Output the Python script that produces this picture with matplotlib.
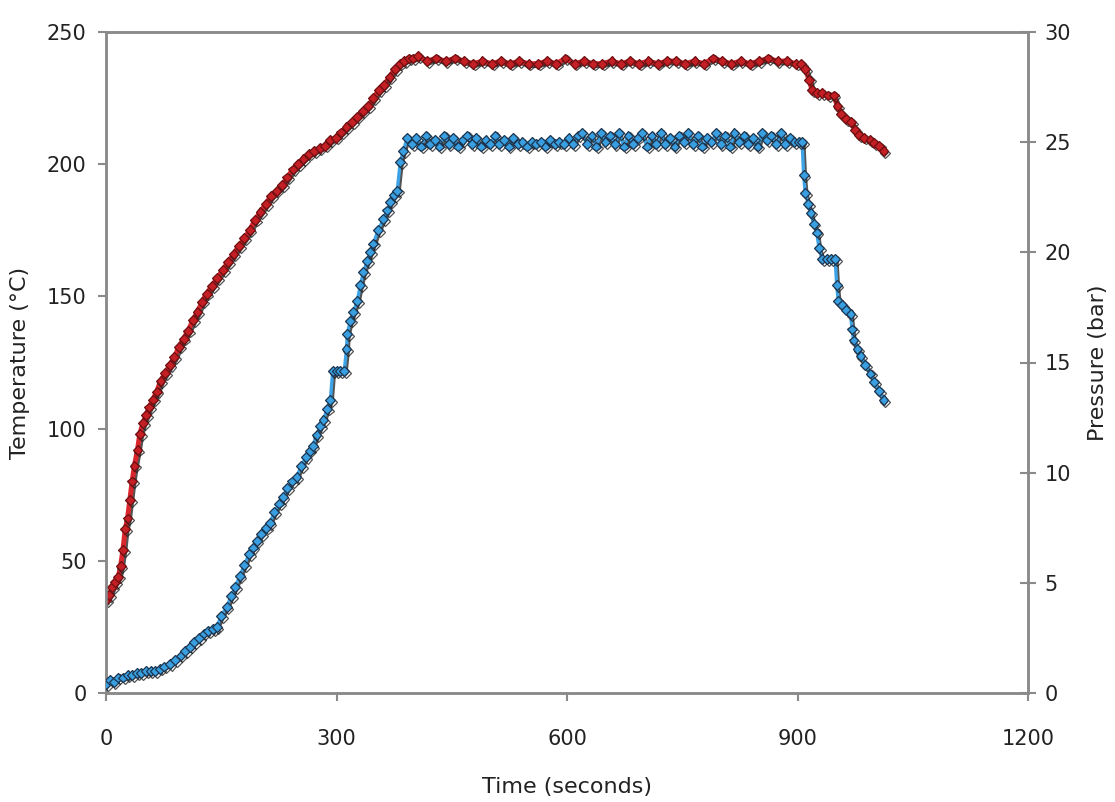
import matplotlib
matplotlib.use("Agg")
import matplotlib.pyplot as plt
import matplotlib.patheffects as pe

# Temperature log (time in s, temperature in degC)
temp_time = [0, 4, 8, 12, 16, 19, 22, 25, 28, 31, 34, 37, 41, 44, 48, 52, 56, 61, 66,
             71, 77, 83, 89, 95, 101, 107, 113, 119, 125, 131, 138, 145, 152, 159, 166,
             173, 180, 187, 194, 201, 208, 215, 222, 229, 236, 243, 250, 257, 264, 271,
             278, 285, 292, 299, 306, 313, 320, 327, 334, 341, 348, 355, 362, 369, 376,
             382, 388, 394, 400, 406, 418, 430, 442, 454, 466, 478, 490, 502, 514, 526,
             538, 550, 562, 574, 586, 598, 610, 622, 634, 646, 658, 670, 682, 694, 706,
             718, 730, 742, 754, 766, 778, 790, 802, 814, 826, 838, 850, 862, 874, 886,
             898, 905, 910, 915, 919, 925, 932, 940, 947, 952, 957, 963, 970, 975, 980,
             987, 995, 1000, 1006, 1012]
temperature = [35, 37, 40, 42, 44, 48, 54, 62, 66, 73, 80, 86, 92, 98, 102, 105, 108, 111, 114,
               118, 121, 124, 127, 131, 134, 137, 141, 144, 148, 151, 154, 157, 160, 163, 166,
               169, 172, 175, 179, 182, 185, 188, 190, 192, 195, 198, 200, 202, 204, 205,
               206, 207, 209, 210, 212, 214, 216, 218, 220, 222, 225, 228, 230, 233, 236,
               238, 239, 240, 240, 241, 239, 240, 239, 240, 239, 238, 239, 238, 239, 238,
               239, 238, 238, 239, 238, 240, 238, 239, 238, 238, 239, 238, 239, 238, 239,
               238, 239, 239, 238, 239, 238, 240, 239, 238, 239, 238, 239, 240, 239, 239,
               238, 238, 236, 232, 228, 227, 227, 226, 226, 222, 219, 217, 216, 213, 211,
               210, 209, 208, 207, 205]

# Pressure log (time in s, pressure in bar)
pres_time = [0, 5, 10, 16, 22, 28, 34, 40, 46, 52, 58, 64, 70, 76, 83, 90, 97, 103, 109,
             115, 121, 127, 133, 139, 144, 150, 157, 163, 168, 174, 180, 186, 191, 196,
             202, 208, 213, 219, 225, 230, 236, 242, 248, 254, 260, 265, 269, 274, 279,
             283, 288, 292, 295, 300, 305, 310, 313, 314, 318, 322, 327, 331, 335, 340,
             344, 348, 354, 361, 366, 370, 375, 379, 383, 387, 392, 398, 404, 410, 416,
             422, 428, 434, 440, 446, 452, 458, 464, 470, 476, 482, 488, 494, 500, 506,
             512, 518, 524, 530, 536, 542, 548, 554, 560, 566, 572, 578, 584, 590, 596,
             602, 608, 614, 620, 626, 632, 638, 644, 650, 656, 662, 668, 674, 680, 686,
             692, 698, 704, 710, 716, 722, 728, 734, 740, 746, 752, 758, 764, 770, 776,
             782, 788, 794, 800, 806, 812, 818, 824, 830, 836, 842, 848, 854, 860, 866,
             872, 878, 884, 890, 896, 902, 906, 908, 910, 914, 917, 921, 925, 928, 932,
             938, 944, 949, 951, 953, 958, 963, 969, 971, 973, 978, 982, 988, 995, 1000,
             1006, 1012]
pressure = [0.4, 0.6, 0.5, 0.7, 0.7, 0.8, 0.8, 0.9, 0.9, 1.0, 1.0, 1.0, 1.1, 1.2, 1.3, 1.5,
            1.7, 1.9, 2.1, 2.3, 2.5, 2.7, 2.8, 2.9, 3.0, 3.5, 3.9, 4.4, 4.8, 5.3, 5.8, 6.3,
            6.6, 6.9, 7.2, 7.5, 7.7, 8.2, 8.6, 8.9, 9.3, 9.6, 9.8, 10.3, 10.7, 11.0, 11.2,
            11.7, 12.1, 12.4, 12.9, 13.3, 14.6, 14.6, 14.6, 14.6, 15.6, 16.3, 16.9, 17.3,
            17.8, 18.5, 19.1, 19.6, 20.0, 20.4, 21.0, 21.5, 21.9, 22.3, 22.6, 22.8, 24.1,
            24.6, 25.2, 24.9, 25.2, 24.8, 25.3, 24.9, 25.1, 24.8, 25.3, 24.9, 25.2, 24.8,
            25.1, 25.3, 24.9, 25.2, 24.8, 25.1, 24.9, 25.3, 24.9, 25.1, 24.8, 25.2, 24.9,
            25.0, 24.8, 25.0, 24.9, 25.0, 24.8, 25.1, 24.9, 25.0, 24.9, 25.2, 24.9, 25.3,
            25.4, 24.9, 25.3, 24.8, 25.4, 25.0, 25.3, 24.9, 25.4, 24.8, 25.3, 24.9, 25.2,
            25.4, 24.8, 25.3, 24.9, 25.4, 24.9, 25.2, 24.8, 25.3, 25.0, 25.4, 24.9, 25.3,
            24.8, 25.2, 25.0, 25.4, 24.9, 25.3, 24.8, 25.4, 25.0, 25.3, 24.9, 25.2, 24.8,
            25.4, 25.1, 25.3, 24.9, 25.4, 24.9, 25.2, 25.0, 25.0, 25.0, 23.5, 22.7, 22.2,
            21.8, 21.3, 20.9, 20.2, 19.7, 19.7, 19.7, 19.7, 18.5, 17.8, 17.6, 17.4, 17.2,
            16.5, 16.0, 15.6, 15.3, 14.9, 14.5, 14.1, 13.7, 13.3]

time_ticks = [0, 300, 600, 900, 1200]
temp_ticks = [0, 50, 100, 150, 200, 250]
pres_ticks = [0, 5, 10, 15, 20, 25, 30]

AXIS_GRAY = "#8a8a8a"
TEXT = "#222222"

fig = plt.figure(figsize=(11.15, 8.02), dpi=100)
ax = fig.add_axes([106 / 1115, 1 - 693 / 802, (1028 - 106) / 1115, (693 - 32) / 802])
ax2 = ax.twinx()

shadow = [pe.SimpleLineShadow(offset=(1.3, -1.3), shadow_color="#1a1a1a", alpha=0.75),
          pe.Normal()]

ax.plot(temp_time, temperature, color="#d8262c", lw=3.6, marker="D", ms=5,
        mfc="#c41f25", mec="#6e0e10", mew=0.9, path_effects=shadow, zorder=3)
ax2.plot(pres_time, pressure, color="#3ea3e6", lw=2.4, marker="D", ms=5,
         mfc="#3a9fe0", mec="#1b3550", mew=0.9, path_effects=shadow, zorder=3)

ax.set_xlim(0, 1200)
ax.set_ylim(0, 250)
ax2.set_ylim(0, 30)
ax.set_xticks(time_ticks)
ax.set_yticks(temp_ticks)
ax2.set_yticks(pres_ticks)

for a in (ax, ax2):
    for side in ("left", "right", "top", "bottom"):
        a.spines[side].set_color(AXIS_GRAY)
        a.spines[side].set_linewidth(1.8)

ax.tick_params(axis="y", direction="out", length=6, width=1.5, color=AXIS_GRAY,
               labelsize=15, labelcolor=TEXT, pad=8)
ax.tick_params(axis="x", direction="out", length=6, width=1.5, color=AXIS_GRAY,
               labelsize=15, labelcolor=TEXT, pad=20)
ax2.tick_params(axis="y", direction="inout", length=12, width=1.5, color=AXIS_GRAY,
                labelsize=15, labelcolor=TEXT, pad=6)

ax.set_xlabel("Time (seconds)", fontsize=16, color=TEXT, labelpad=20)
ax.set_ylabel("Temperature (\u00b0C)", fontsize=16, color=TEXT, labelpad=12)
ax2.set_ylabel("Pressure (bar)", fontsize=16, color=TEXT, labelpad=12)

fig.savefig("out.png", dpi=100, facecolor="white")
